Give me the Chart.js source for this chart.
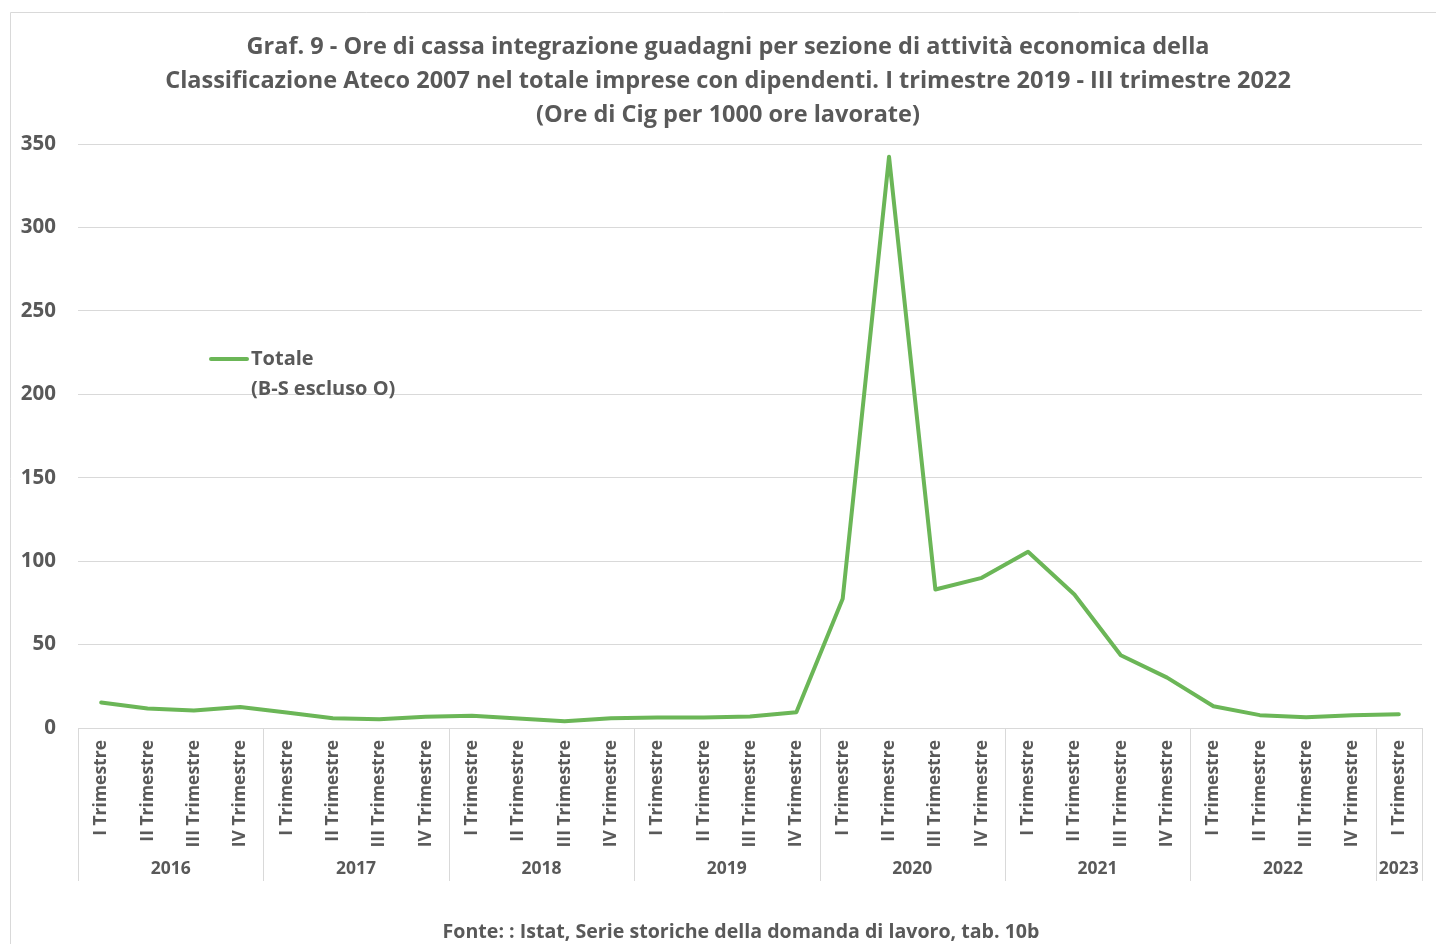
<!DOCTYPE html>
<html>
<head>
<meta charset="utf-8">
<script src="https://cdn.jsdelivr.net/npm/chart.js@4"></script>
<style>
html,body{margin:0;padding:0;background:#fff;}
#wrap{width:1436px;height:944px;position:relative;}
</style>
</head>
<body>
<div id="wrap"><canvas id="c" width="1436" height="944"></canvas></div>
<script>
const quarters = ["I Trimestre","II Trimestre","III Trimestre","IV Trimestre",
  "I Trimestre","II Trimestre","III Trimestre","IV Trimestre",
  "I Trimestre","II Trimestre","III Trimestre","IV Trimestre",
  "I Trimestre","II Trimestre","III Trimestre","IV Trimestre",
  "I Trimestre","II Trimestre","III Trimestre","IV Trimestre",
  "I Trimestre","II Trimestre","III Trimestre","IV Trimestre",
  "I Trimestre","II Trimestre","III Trimestre","IV Trimestre",
  "I Trimestre"];
const years = ["2016","2017","2018","2019","2020","2021","2022","2023"];
const yearSizes = [4,4,4,4,4,4,4,1];
const totale = [15.3,11.7,10.5,12.6,9.3,5.9,5.3,6.7,7.3,5.7,4.1,5.9,6.3,6.3,6.9,9.5,
  77.5,342.4,83,90,105.6,80,43.6,30.2,13,7.7,6.5,7.7,8.2];
const seriesLabel = ["Totale","(B-S escluso O)"];
const titleLines = [
  "Graf. 9 - Ore di cassa integrazione guadagni per sezione di attività economica della",
  "Classificazione Ateco 2007 nel totale imprese con dipendenti. I trimestre 2019 - III trimestre 2022",
  "(Ore di Cig per 1000 ore lavorate)"
];
const sourceText = "Fonte: : Istat, Serie storiche della domanda di lavoro, tab. 10b";

const FONT = "'Open Sans', sans-serif";
const TXT = "#595959";
const GRID = "#d9d9d9";
const GREEN = "#6BB657";

const decor = {
  id: 'decor',
  beforeDraw(chart) {
    const ctx = chart.ctx;
    ctx.save();
    ctx.strokeStyle = GRID; ctx.lineWidth = 1;
    ctx.beginPath();
    ctx.moveTo(10.5, 944); ctx.lineTo(10.5, 12.5); ctx.lineTo(1436, 12.5);
    ctx.stroke();
    ctx.restore();
  },
  afterDraw(chart) {
    const ctx = chart.ctx;
    const x = chart.scales.x;
    const ca = chart.chartArea;
    ctx.save();
    // title
    ctx.fillStyle = TXT;
    ctx.font = "bold 23.5px " + FONT;
    ctx.textAlign = "center"; ctx.textBaseline = "middle";
    const ty = [47, 81, 115];
    titleLines.forEach((t, i) => ctx.fillText(t, 728, ty[i]));
    // separators and years
    ctx.strokeStyle = GRID; ctx.lineWidth = 1;
    let idx = 0;
    const bounds = [];
    for (let g = 0; g < years.length; g++) {
      const s = idx, e = idx + yearSizes[g] - 1;
      const left = s === 0 ? ca.left : (x.getPixelForValue(s - 1) + x.getPixelForValue(s)) / 2;
      const right = e === quarters.length - 1 ? ca.right : (x.getPixelForValue(e) + x.getPixelForValue(e + 1)) / 2;
      bounds.push(left);
      if (g === years.length - 1) bounds.push(right);
      ctx.font = "bold 17.5px " + FONT;
      ctx.fillStyle = TXT;
      ctx.fillText(years[g], (left + right) / 2, 869);
      idx = e + 1;
    }
    ctx.beginPath();
    bounds.forEach(b => { const bx = Math.round(b) + 0.5; ctx.moveTo(bx, ca.bottom); ctx.lineTo(bx, 881); });
    ctx.stroke();
    // legend
    ctx.strokeStyle = GREEN; ctx.lineWidth = 4; ctx.lineCap = "round";
    ctx.beginPath(); ctx.moveTo(211, 359); ctx.lineTo(247, 359); ctx.stroke();
    ctx.fillStyle = TXT; ctx.font = "bold 20px " + FONT;
    ctx.textAlign = "left";
    ctx.fillText(seriesLabel[0], 251, 359);
    ctx.fillText(seriesLabel[1], 251, 389);
    // source
    ctx.textAlign = "center";
    ctx.font = "bold 19.6px " + FONT;
    ctx.fillText(sourceText, 741, 932);
    ctx.restore();
  }
};

new Chart(document.getElementById('c'), {
  type: 'line',
  data: {
    labels: quarters,
    datasets: [{
      label: seriesLabel.join(" "),
      data: totale,
      borderColor: GREEN,
      backgroundColor: GREEN,
      borderWidth: 4,
      pointRadius: 0,
      tension: 0,
      borderJoinStyle: 'round',
      borderCapStyle: 'round'
    }]
  },
  options: {
    responsive: false,
    animation: false,
    layout: { padding: { top: 144, right: 14, left: 0, bottom: 0 } },
    plugins: { legend: { display: false }, title: { display: false }, tooltip: { enabled: false } },
    scales: {
      y: {
        min: 0, max: 350,
        ticks: { stepSize: 50, color: TXT, font: { family: FONT, weight: 'bold', size: 20.5 }, padding: 22 },
        grid: { color: GRID, lineWidth: 1, drawTicks: false },
        border: { display: false },
        afterFit(s) { s.width = 78; s.paddingTop = 0; s.paddingBottom = 0; }
      },
      x: {
        offset: true,
        ticks: { minRotation: 90, maxRotation: 90, autoSkip: false, color: TXT,
                 font: { family: FONT, weight: 'bold', size: 17.5 }, padding: 12 },
        grid: { display: false, drawTicks: false, offset: true },
        border: { display: true, color: GRID },
        afterFit(s) { s.height = 216; s.paddingLeft = 0; s.paddingRight = 0; }
      }
    }
  },
  plugins: [decor]
});
</script>
</body>
</html>
